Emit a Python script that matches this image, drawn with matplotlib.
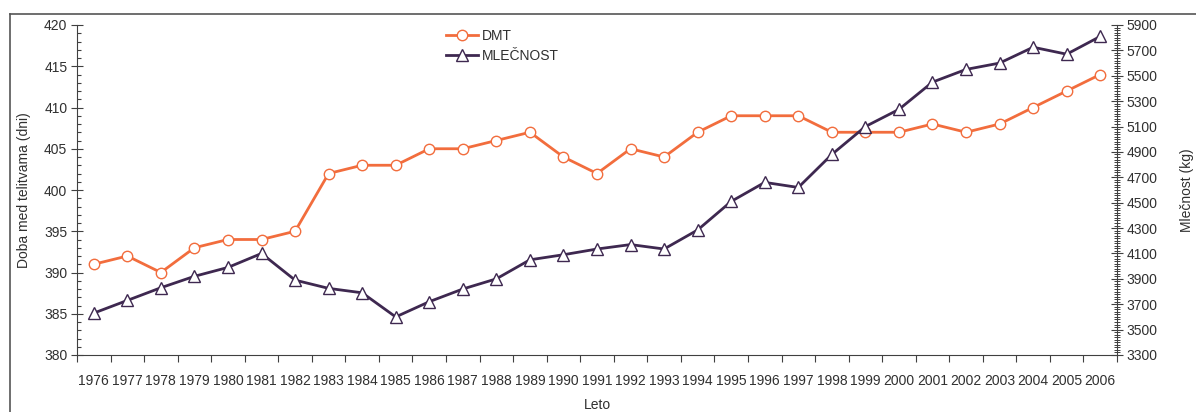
import matplotlib
matplotlib.use("Agg")
import matplotlib.pyplot as plt
from matplotlib.lines import Line2D
from matplotlib.ticker import MultipleLocator, FixedLocator, NullFormatter

plt.rcParams['font.family'] = ['Liberation Sans', 'DejaVu Sans']

years = [str(y) for y in range(1976, 2007)]
dmt = [391, 392, 390, 393, 394, 394, 395, 402, 403, 403, 405, 405, 406, 407, 404,
       402, 405, 404, 407, 409, 409, 409, 407, 407, 407, 408, 407, 408, 410, 412, 414]
mlecnost = [3630, 3730, 3830, 3920, 3990, 4100, 3890, 3825, 3790, 3600, 3720, 3820,
            3900, 4050, 4090, 4135, 4170, 4135, 4285, 4510, 4660, 4620, 4880, 5100,
            5235, 5450, 5550, 5600, 5725, 5670, 5810]
right_ticks = list(range(3300, 5901, 200))

orange = '#F26D3D'
purple = '#3E2850'
grey = '#404040'
fs = 10

fig = plt.figure(figsize=(11.96, 4.12), dpi=100)
W, H = 1196, 412
ax = fig.add_axes([77 / W, 1 - 355 / H, (1117 - 77) / W, (355 - 25) / H])
ax2 = ax.twinx()

x = list(range(len(years)))
l1, = ax.plot(x, dmt, color=orange, lw=2, marker='o', ms=7.5, mfc='white',
              mec=orange, mew=1, zorder=3, label='DMT')
l2, = ax2.plot(x, mlecnost, color=purple, lw=2, marker='^', ms=8, mfc='white',
               mec=purple, mew=1, zorder=3, label='MLEČNOST')

ax.set_xlim(-0.5, len(years) - 0.5)
ax.set_ylim(380, 420)
ax2.set_ylim(3300, 5900)

# x ticks: boundaries (major, no labels), centers (minor, labels)
ax.xaxis.set_major_locator(FixedLocator([i - 0.5 for i in range(len(years) + 1)]))
ax.xaxis.set_major_formatter(NullFormatter())
ax.xaxis.set_minor_locator(FixedLocator(x))
ax.set_xticklabels(years, minor=True)
ax.tick_params(axis='x', which='major', direction='out', length=5, color=grey, width=0.8)
ax.tick_params(axis='x', which='minor', length=0, pad=14, labelsize=fs, labelcolor='#303030')

ax.yaxis.set_major_locator(MultipleLocator(5))
ax.yaxis.set_minor_locator(MultipleLocator(1))
ax.tick_params(axis='y', which='major', direction='inout', length=8, width=0.8,
               color=grey, labelsize=fs, labelcolor='#303030', pad=3)
ax.tick_params(axis='y', which='minor', direction='in', length=3, width=0.8, color=grey)

ax2.yaxis.set_major_locator(FixedLocator(right_ticks))
ax2.yaxis.set_minor_locator(MultipleLocator(20))
ax2.tick_params(axis='y', which='major', direction='inout', length=8, width=0.8,
                color=grey, labelsize=fs, labelcolor='#303030', pad=3)
ax2.tick_params(axis='y', which='minor', direction='inout', length=4, width=0.7, color=grey)

for a in (ax, ax2):
    a.spines['top'].set_visible(False)
    for s in ('left', 'right', 'bottom'):
        a.spines[s].set_color(grey)
        a.spines[s].set_linewidth(0.8)
ax.spines['right'].set_visible(False)
ax2.spines['left'].set_visible(False)
ax2.spines['bottom'].set_visible(False)

fig.text(24 / W, 1 - 190 / H, 'Doba med telitvama (dni)', rotation=90, ha='center',
         va='center', fontsize=fs, color='#303030')
fig.text(1187 / W, 1 - 190 / H, 'Mlečnost (kg)', rotation=90, ha='center',
         va='center', fontsize=fs, color='#303030')
fig.text(597 / W, 1 - 405 / H, 'Leto', ha='center', va='center', fontsize=fs,
         color='#303030')

leg = ax2.legend(handles=[l1, l2], loc='upper left',
                 bbox_to_anchor=(443 / W, 1 - 26 / H), bbox_transform=fig.transFigure,
                 frameon=False, fontsize=fs, handlelength=2.3, handletextpad=0.3,
                 labelspacing=0.45, borderaxespad=0, borderpad=0.2)
for t in leg.get_texts():
    t.set_color('#303030')

# outer frame (partially visible)
fig.add_artist(Line2D([10 / W, 1.0], [1 - 13.5 / H, 1 - 13.5 / H],
                      transform=fig.transFigure, color='#555555', lw=1.2))
fig.add_artist(Line2D([10 / W, 10 / W], [1 - 13.5 / H, 0.0],
                      transform=fig.transFigure, color='#555555', lw=1.2))

fig.savefig('out.png', dpi=100)
